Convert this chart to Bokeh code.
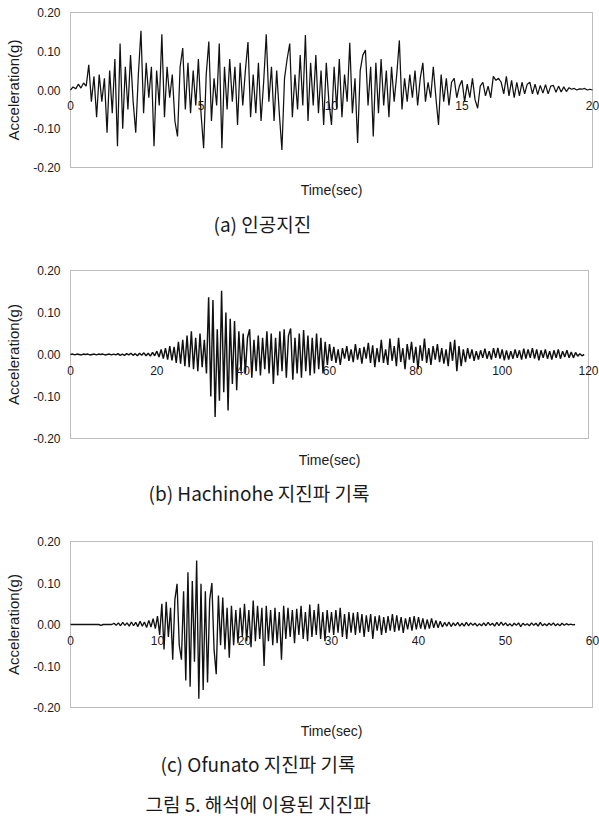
import numpy as np
from bokeh.plotting import figure
from bokeh.models import Range1d, FixedTicker, NumeralTickFormatter, BoxAnnotation
from bokeh.layouts import column
from bokeh.embed import file_html
from bokeh.resources import INLINE
from bokeh.core.properties import value

# ---------------- data (acceleration, in 0.001 g) ----------------
y_ticks = [-0.2, -0.1, 0.0, 0.1, 0.2]

# (a) artificial earthquake, sampled every 0.1 s
a_dt = 0.1
a_acc_mg = [
    0, 8, 3, 15, 5, 18, 10, 65, -30, 35,
    -70, 40, -30, 30, -110, 50, -60, 80, -145, 120,
    -100, 60, -50, 90, -30, -110, 40, 153, -60, 70,
    -20, 60, -145, 50, -40, 144, -70, 60, -20, 40,
    -80, -120, 60, 108, -50, 70, -60, 50, -40, 80,
    -60, -150, 40, 125, -80, 30, -40, 120, -150, 60,
    -50, 80, -30, 60, -90, 70, -40, 50, 124, -70,
    40, -60, 70, -80, 20, 144, -30, 60, -80, 50,
    -60, -155, 30, 80, 120, -70, 40, -50, 90, -40,
    142, -80, 70, -40, 90, -60, 50, -90, 70, -30,
    -90, 60, -50, 80, -70, 40, -30, 122, -60, 30,
    -137, 50, 90, 103, -40, 60, -120, 70, -60, 80,
    -40, 50, -70, 60, -30, 40, 128, -50, 30, -30,
    40, -20, 50, -40, 30, 70, -30, 20, -20, 60,
    -20, -90, 40, -30, 30, -40, 20, 30, -20, 10,
    25, -30, 15, -20, 30, -25, -47, 10, 20, -15,
    10, -20, 35, 25, 30, 20, -10, 35, -15, 25,
    -20, 20, -15, 20, -10, 15, 20, -10, 15, -12,
    12, -8, 14, -10, 10, 12, -6, 10, -5, 8,
    -4, 6, 2, 4, 0, 3, 2, 4, 0, 2, 0,
]
a_x_ticks = [0, 5, 10, 15, 20]

# (b) Hachinohe record, sampled every 0.5 s
b_dt = 0.5
b_acc_mg = [
    0, 1, -1, 1, 0, -1, 1, 0, 1, -1, 0, 1, -1, 1, 0, 1, -1, 0, 1, -1,
    1, -1, 2, -2, 1, -2, 2, -1, 3, -2, 2, -3, 3, -2, 4, -3, 3, -4, 5, -3,
    8, -6, 12, -10, 15, -12, 20, -14, 18, -20, 30, -22, 35, -28, 45, -30, 55, -35, 40, -40,
    50, -30, 35, -45, 136, -100, 130, -149, 60, -110, 152, -90, 100, -133, 85, -70, 80, -85, 55, -40,
    50, -45, 40, 60, -55, 35, -40, 45, -50, 40, -35, 55, -45, 50, -70, 40, -50, 55, -40, 60,
    -55, 45, 62, -60, 40, -45, 50, -55, 58, -40, 45, -50, 40, -45, 50, -35, 40, -45, 30, -25,
    25, -15, 18, -20, 12, -25, 15, -10, 20, -15, 12, -18, 25, -12, 15, -22, 18, -10, 28, -20,
    22, -30, 15, -18, 35, -20, 12, -25, 38, -15, 20, -28, 40, -18, 15, -35, 25, -12, 30, -20,
    18, -35, 22, -15, 38, -20, 15, -25, 20, -12, 25, -18, 15, -22, 12, -28, 30, -15, 35, -40,
    20, -28, 12, -18, 15, -10, 12, -15, 8, -12, 10, -8, 14, -10, 8, -12, 15, -8, 16, -10,
    12, -14, 10, -12, 8, -10, 12, -8, 10, -12, 14, -10, 12, -8, 15, -10, 12, -14, 10, -8,
    12, -10, 8, -12, 10, -8, 12, -10, 8, -6, 10, -8, 6, -8, 5, -4, 2, -3, 0,
]
b_x_ticks = [0, 20, 40, 60, 80, 100, 120]

# (c) Ofunato record, sampled every 0.25 s
c_dt = 0.25
c_acc_mg = [
    0, 0, 0, 0, 0, 0, 0, 0, 0, 0, 0, 0, 0, 0, -2, 0, 0, 0, 0, 0,
    3, -2, 4, -3, 5, -2, 4, -4, 6, -3, 5, -5, 8, -4, 6, -7, 10, -6, 14, -10,
    20, -25, 50, -60, 55, -30, 40, -85, 60, 98, -50, -85, 80, -135, 126, -150, 105, -90, 154, -179,
    98, -158, 80, -140, 60, 100, -60, -120, 70, -50, 65, -60, 40, -80, 45, -50, 35, -45, 40, -30,
    50, -40, 35, -55, 58, -40, 45, -35, 40, -100, 45, -40, 35, -50, 40, -45, 30, -85, 45, -35,
    40, -30, 35, -45, 38, -25, 45, -35, 30, -40, 48, -30, 35, -25, 50, -35, 30, -40, 35, -20,
    30, -25, 35, -20, 40, -30, 25, -35, 30, -20, 28, -25, 30, -20, 25, -30, 22, -18, 25, -35,
    20, -15, 22, -25, 18, -20, 20, -15, 25, -18, 22, -15, 18, -20, 15, -12, 18, -15, 20, -12,
    18, -10, 15, -12, 12, -10, 15, -8, 10, -8, 8, -6, 5, -4, 6, -5, 4, -3, 5, -4,
    3, -4, 5, -3, 4, -2, 3, -4, 2, -3, 4, -3, 5, -2, 3, -4, 5, -3, 6, -2,
    4, -3, 2, -4, 3, -2, 4, -5, 3, -2, 2, -3, 4, -2, 3, -4, 5, -3, 2, -3,
    3, -2, 4, -3, 2, -3, 3, -2, 2, -1, 1, -1, 0,
]
c_x_ticks = [0, 10, 20, 30, 40, 50, 60]

x_title = "Time(sec)"
y_title = "Acceleration(g)"
cap_a = "(a) 인공지진"
cap_b = "(b) Hachinohe 지진파 기록"
cap_c = "(c) Ofunato 지진파 기록"
fig_caption = "그림 5. 해석에 이용된 지진파"

LATIN = "Liberation Sans"
KOR = "Noto Sans CJK KR"
INK = "#1a1a1a"
W = 599
FRAME_L = 60          # plot area (frame) starts here; the drawn box starts at BOX_L
BOX_L = 70


def make_panel(dt, acc_mg, xmax, xticks, top, box_h, box_r, lw):
    acc = np.array(acc_mg, dtype=float) / 1000.0
    t = np.arange(len(acc)) * dt
    px_per_unit = (box_r - BOX_L) / xmax
    pad_l = (BOX_L - FRAME_L) / px_per_unit
    pad_r = (W - box_r) / px_per_unit
    ypad = 0.4 / box_h          # one pixel of room above and below the box
    p = figure(width=W, height=top + box_h + 2 + 8,
               x_range=Range1d(-pad_l, xmax + pad_r),
               y_range=Range1d(-0.2 - ypad, 0.2 + ypad),
               output_backend="svg", toolbar_location=None,
               min_border_left=FRAME_L, min_border_right=0, min_border_top=top - 1,
               min_border_bottom=9, background_fill_color="white", border_fill_color="white")
    p.grid.visible = False
    p.outline_line_color = None
    p.add_layout(BoxAnnotation(left=0, right=xmax, bottom=-0.2, top=0.2, fill_color=None,
                               line_color="#222222", line_width=1))
    p.line(t, acc, line_color="#111111", line_width=lw)

    ax = p.yaxis[0]
    ax.ticker = FixedTicker(ticks=y_ticks)
    ax.formatter = NumeralTickFormatter(format="0.00")
    ax.axis_label = y_title
    ax.axis_label_text_font = LATIN
    ax.axis_label_text_font_size = "15px"
    ax.axis_label_text_font_style = "normal"
    ax.axis_label_text_color = INK
    ax.axis_label_standoff = 8
    ax.major_label_text_font = LATIN
    ax.major_label_text_font_size = "12px"
    ax.major_label_text_color = INK
    ax.major_label_standoff = 0
    ax.major_tick_out = 0
    ax.major_tick_in = 0
    ax.minor_tick_out = 0
    ax.minor_tick_in = 0
    ax.axis_line_color = None

    xa = p.xaxis[0]
    xa.fixed_location = 0
    xa.ticker = FixedTicker(ticks=xticks)
    xa.major_label_text_font = LATIN
    xa.major_label_text_font_size = "12px"
    xa.major_label_text_color = INK
    xa.major_label_standoff = 11
    xa.major_tick_out = 0
    xa.major_tick_in = 0
    xa.minor_tick_out = 0
    xa.minor_tick_in = 0
    xa.axis_line_color = None
    return p


def text_strip(height, lines):
    # lines: (x_px, y_px_from_top, text, font, size, style, align) in page pixels
    s = figure(width=W, height=height, x_range=Range1d(FRAME_L, W), y_range=Range1d(height, 0),
               output_backend="svg", toolbar_location=None, x_axis_location=None,
               y_axis_location=None, min_border_left=FRAME_L, min_border_right=0,
               min_border_top=0, min_border_bottom=0, outline_line_color=None,
               background_fill_color="white", border_fill_color="white")
    s.grid.visible = False
    for x, y, txt, font, size, style, align in lines:
        s.text(x=[x], y=[y], text=[txt], text_font=value(font), text_font_size=value(size),
               text_font_style=style, text_align=align, text_baseline="middle", text_color=INK)
    return s


pa = make_panel(a_dt, a_acc_mg, 20, a_x_ticks, 12, 155, 592, 1.25)      # 0..177, box 12..167
sa = text_strip(68, [(331, 12, x_title, LATIN, "14px", "normal", "center"),
                     (213, 46, cap_a, KOR, "19px", "normal", "left")])   # 177..245

pb = make_panel(b_dt, b_acc_mg, 120, b_x_ticks, 25, 168, 588, 1.45)     # 245..448, box 270..438
sb = text_strip(67, [(329, 11, x_title, LATIN, "14px", "normal", "center"),
                     (148, 44, cap_b, KOR, "19px", "normal", "left")])   # 448..515

pc = make_panel(c_dt, c_acc_mg, 60, c_x_ticks, 26, 166, 592, 1.35)      # 515..717, box 541..707
sc = text_strip(108, [(331, 13, x_title, LATIN, "14px", "normal", "center"),
                      (160, 46, cap_c, KOR, "19px", "normal", "left"),
                      (145, 86, fig_caption, KOR, "19px", "normal", "left")])  # 717..825

layout = column(pa, sa, pb, sb, pc, sc, spacing=0)
open("out.html", "w").write(file_html(layout, INLINE))
